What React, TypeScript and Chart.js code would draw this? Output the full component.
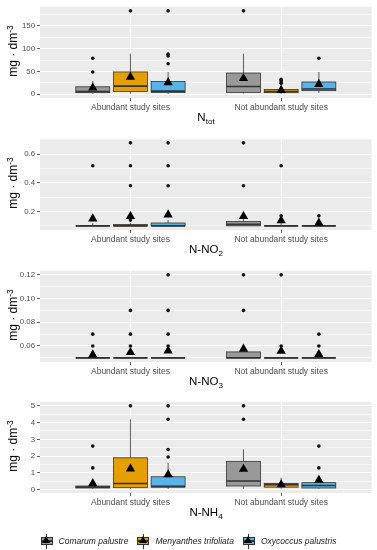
import React, { useEffect, useRef } from "react";
import { Chart, registerables } from "chart.js";
Chart.register(...registerables);

const groups = ["Abundant study sites", "Not abundant study sites"];
const species = ["Comarum palustre", "Menyanthes trifoliata", "Oxycoccus palustris"];
const speciesColors = ["#999999", "#E69F00", "#56B4E9"];

// box stats per species (rows) and group (columns): [lower whisker, Q1, median, Q3, upper whisker]
const ntotBoxes = [
  [[1, 3.6, 6, 16.5, 29], [2, 4, 17, 46.6, 89]],
  [[1, 6, 18, 49, 89], [1, 3.6, 6, 10.7, 20]],
  [[1, 4, 7, 28, 49], [3, 8, 11.5, 27, 49]],
];
const ntotMeans = [[14, 35], [38, 9], [26, 22]];
const ntotOutliers = [
  [[49, 79], [183]],
  [[183], [24, 27, 30, 33]],
  [[67, 84, 88, 183], [79]],
];
const ntotMajor = [0, 50, 100, 150];
const ntotMinor = [25, 75, 125, 175];
const ntotLabels = ["0", "50", "100", "150"];

const no2Boxes = [
  [[0.1, 0.1, 0.1, 0.1, 0.12], [0.1, 0.1, 0.11, 0.13, 0.15]],
  [[0.1, 0.1, 0.1, 0.11, 0.12], [0.1, 0.1, 0.1, 0.1, 0.12]],
  [[0.1, 0.1, 0.1, 0.12, 0.14], [0.1, 0.1, 0.1, 0.1, 0.1]],
];
const no2Means = [[0.15, 0.166], [0.166, 0.137], [0.178, 0.12]];
const no2Outliers = [
  [[0.52], [0.38, 0.68]],
  [[0.14, 0.38, 0.52, 0.68], [0.17, 0.52]],
  [[0.38, 0.52, 0.68], [0.17]],
];
const no2Major = [0.2, 0.4, 0.6];
const no2Minor = [0.1, 0.3, 0.5, 0.7];
const no2Labels = ["0.2", "0.4", "0.6"];

const no3Boxes = [
  [[0.05, 0.05, 0.05, 0.05, 0.05], [0.05, 0.05, 0.05, 0.055, 0.055]],
  [[0.05, 0.05, 0.05, 0.05, 0.05], [0.05, 0.05, 0.05, 0.05, 0.05]],
  [[0.05, 0.05, 0.05, 0.05, 0.05], [0.05, 0.05, 0.05, 0.05, 0.05]],
];
const no3Means = [[0.0526, 0.0575], [0.0547, 0.0557], [0.0559, 0.053]];
const no3Outliers = [
  [[0.06, 0.07], [0.09, 0.12]],
  [[0.06, 0.07, 0.09], [0.06, 0.12]],
  [[0.06, 0.07, 0.09, 0.12], [0.06, 0.07]],
];
const no3Major = [0.06, 0.08, 0.1, 0.12];
const no3Minor = [0.05, 0.07, 0.09, 0.11];
const no3Labels = ["0.06", "0.08", "0.10", "0.12"];

const nh4Boxes = [
  [[0.05, 0.1, 0.15, 0.22, 0.45], [0.05, 0.22, 0.52, 1.69, 2.4]],
  [[0.05, 0.12, 0.37, 1.9, 4.2], [0.05, 0.15, 0.3, 0.38, 0.71]],
  [[0.05, 0.15, 0.2, 0.77, 1.6], [0.05, 0.1, 0.25, 0.42, 0.7]],
];
const nh4Means = [[0.37, 1.23], [1.25, 0.3], [0.9, 0.57]];
const nh4Outliers = [
  [[1.3, 2.6], [4.2, 5]],
  [[5], []],
  [[1.95, 2.4, 4.2, 5], [1.3, 2.6]],
];
const nh4Major = [0, 1, 2, 3, 4, 5];
const nh4Minor = [0.5, 1.5, 2.5, 3.5, 4.5];
const nh4Labels = ["0", "1", "2", "3", "4", "5"];

const dodge = [-0.25, 0, 0.25];
const boxWidth = 0.225;
const FONT = "'Liberation Sans', Arial, sans-serif";

type Panel = {
  boxes: number[][][];
  means: number[][];
  outliers: number[][][];
  major: number[];
  minor: number[];
  labels: string[];
};

const panels: Panel[] = [
  { boxes: ntotBoxes, means: ntotMeans, outliers: ntotOutliers, major: ntotMajor, minor: ntotMinor, labels: ntotLabels },
  { boxes: no2Boxes, means: no2Means, outliers: no2Outliers, major: no2Major, minor: no2Minor, labels: no2Labels },
  { boxes: no3Boxes, means: no3Means, outliers: no3Outliers, major: no3Major, minor: no3Minor, labels: no3Labels },
  { boxes: nh4Boxes, means: nh4Means, outliers: nh4Outliers, major: nh4Major, minor: nh4Minor, labels: nh4Labels },
];

function limits(p: Panel): [number, number] {
  const vals = [...p.boxes.flat(2), ...p.outliers.flat(2), ...p.means.flat()];
  const lo = Math.min(...vals);
  const hi = Math.max(...vals);
  const pad = (hi - lo) * 0.05;
  return [lo - pad, hi + pad];
}

function makeBoxPlugin(p: Panel) {
  return {
    id: "boxes",
    beforeDraw(chart: any) {
      const { ctx, chartArea: a } = chart;
      ctx.save();
      ctx.fillStyle = "#EBEBEB";
      ctx.fillRect(a.left, a.top, a.right - a.left, a.bottom - a.top);
      ctx.restore();
    },
    beforeDatasetsDraw(chart: any) {
      const { ctx } = chart;
      const x = chart.scales.x;
      const y = chart.scales.y;
      const half = (x.getPixelForValue(boxWidth) - x.getPixelForValue(0)) / 2;
      ctx.save();
      p.boxes.forEach((rows, s) => {
        rows.forEach((b, g) => {
          const cx = x.getPixelForValue(g + 1 + dodge[s]);
          const [lo, q1, med, q3, hi] = b.map((v) => y.getPixelForValue(v));
          ctx.strokeStyle = "#333333";
          ctx.lineWidth = 0.8;
          ctx.beginPath();
          ctx.moveTo(cx, lo);
          ctx.lineTo(cx, q1);
          ctx.moveTo(cx, q3);
          ctx.lineTo(cx, hi);
          ctx.stroke();
          ctx.fillStyle = speciesColors[s];
          ctx.fillRect(cx - half, q3, half * 2, q1 - q3);
          ctx.strokeRect(cx - half, q3, half * 2, q1 - q3);
          ctx.lineWidth = 1.6;
          ctx.beginPath();
          ctx.moveTo(cx - half, med);
          ctx.lineTo(cx + half, med);
          ctx.stroke();
        });
      });
      ctx.restore();
    },
  };
}

function PanelChart({ panel, top }: { panel: Panel; top: number }) {
  const ref = useRef<HTMLCanvasElement | null>(null);
  useEffect(() => {
    if (!ref.current) return;
    const [min, max] = limits(panel);
    const datasets: any[] = [];
    species.forEach((sp, s) => {
      const outs: any[] = [];
      panel.outliers[s].forEach((list, g) =>
        list.forEach((v) => outs.push({ x: g + 1 + dodge[s], y: v }))
      );
      datasets.push({
        label: sp + " outliers",
        data: outs,
        pointRadius: 1.8,
        backgroundColor: "#111111",
        borderWidth: 0,
      });
    });
    species.forEach((sp, s) => {
      datasets.push({
        label: sp + " mean",
        data: panel.means[s].map((v, g) => ({ x: g + 1 + dodge[s], y: v })),
        pointStyle: "triangle",
        pointRadius: 5.4,
        backgroundColor: "#000000",
        borderWidth: 0,
      });
    });
    const chart = new Chart(ref.current, {
      type: "scatter",
      data: { datasets },
      plugins: [makeBoxPlugin(panel)],
      options: {
        animation: false,
        responsive: false,
        devicePixelRatio: 1,
        events: [],
        layout: { padding: { top: 4, right: 5, left: 0, bottom: 0 } },
        plugins: { legend: { display: false }, tooltip: { enabled: false } },
        scales: {
          x: {
            type: "linear",
            min: 0.4,
            max: 2.6,
            afterBuildTicks: (s: any) => {
              s.ticks = groups.map((_, i) => ({ value: i + 1 }));
            },
            afterFit: (s: any) => {
              s.height = 14;
            },
            ticks: {
              callback: (v: any) => groups[Math.round(v) - 1],
              font: { family: FONT, size: 8.5 },
              color: "#4D4D4D",
              padding: 1.5,
              maxRotation: 0,
              minRotation: 0,
              autoSkip: false,
            },
            grid: { color: "#FFFFFF", lineWidth: 1, tickColor: "#333333", tickLength: 3, tickWidth: 0.8 },
            border: { display: false },
          },
          y: {
            type: "linear",
            min,
            max,
            afterBuildTicks: (s: any) => {
              s.ticks = [...panel.minor, ...panel.major]
                .filter((v) => v >= min && v <= max)
                .sort((a, b) => a - b)
                .map((v) => ({ value: v }));
            },
            afterFit: (s: any) => {
              s.width = 40;
            },
            ticks: {
              callback: (v: any) => {
                const i = panel.major.indexOf(v);
                return i >= 0 ? panel.labels[i] : "";
              },
              font: { family: FONT, size: 7.8 },
              color: "#4D4D4D",
              padding: 2,
              autoSkip: false,
            },
            grid: {
              color: "#FFFFFF",
              lineWidth: (c: any) => (c.tick && panel.major.includes(c.tick.value) ? 1 : 0.5),
              tickColor: (c: any) =>
                c.tick && panel.major.includes(c.tick.value) ? "#333333" : "rgba(0,0,0,0)",
              tickLength: 3,
              tickWidth: 0.8,
            },
            border: { display: false },
          },
        },
      } as any,
    });
    return () => chart.destroy();
  }, [panel]);
  return (
    <canvas
      ref={ref}
      width={377}
      height={112}
      style={{ position: "absolute", left: 0, top, width: 377, height: 112, display: "block" }}
    />
  );
}

const subStyle = { fontSize: "70%", verticalAlign: "-0.35em", lineHeight: 0 };
const titles = [
  <>N<sub style={subStyle}>tot</sub></>,
  <>N-NO<sub style={subStyle}>2</sub></>,
  <>N-NO<sub style={subStyle}>3</sub></>,
  <>N-NH<sub style={subStyle}>4</sub></>,
];

export default function App() {
  const tops = [0, 132, 264, 395];
  return (
    <div style={{ position: "absolute", left: 0, top: 0, width: 377, height: 550, background: "#fff", fontFamily: FONT }}>
      {panels.map((p, i) => (
        <React.Fragment key={i}>
          <PanelChart panel={p} top={tops[i]} />
          <div
            style={{
              position: "absolute",
              left: 12.5 - 47,
              top: tops[i] + 4 + 47 - 8,
              width: 94,
              height: 16,
              lineHeight: "16px",
              textAlign: "center",
              fontSize: 12,
              color: "#000",
              transform: "rotate(-90deg)",
              whiteSpace: "nowrap",
            }}
          >
            mg · dm<sup style={{ fontSize: "70%", verticalAlign: "0.5em", lineHeight: 0 }}>-3</sup>
          </div>
          <div
            style={{
              position: "absolute",
              left: 40,
              width: 332,
              top: tops[i] + 110,
              height: 15,
              lineHeight: "15px",
              textAlign: "center",
              fontSize: 11.5,
              color: "#000",
            }}
          >
            {titles[i]}
          </div>
        </React.Fragment>
      ))}
      <div
        style={{
          position: "absolute",
          left: 0,
          top: 533,
          width: 377,
          height: 16,
          display: "flex",
          justifyContent: "center",
          alignItems: "center",
          gap: 9,
        }}
      >
        {species.map((sp, i) => (
          <div key={sp} style={{ display: "flex", alignItems: "center" }}>
            <div style={{ position: "relative", width: 12, height: 15 }}>
              <div style={{ position: "absolute", left: 5.5, top: 0, width: 1, height: 15, background: "#333" }} />
              <div
                style={{
                  position: "absolute",
                  left: 0,
                  top: 3.5,
                  width: 12,
                  height: 8,
                  background: speciesColors[i],
                  border: "0.8px solid #333",
                  boxSizing: "border-box",
                }}
              />
              <div style={{ position: "absolute", left: 0, top: 6.8, width: 12, height: 1.5, background: "#333" }} />
              <div
                style={{
                  position: "absolute",
                  left: 1.5,
                  top: 2,
                  width: 0,
                  height: 0,
                  borderLeft: "4.5px solid transparent",
                  borderRight: "4.5px solid transparent",
                  borderBottom: "7.5px solid #000",
                }}
              />
            </div>
            <span style={{ marginLeft: 6, fontStyle: "italic", fontSize: 8.5, color: "#1a1a1a", whiteSpace: "nowrap" }}>
              {sp}
            </span>
          </div>
        ))}
      </div>
    </div>
  );
}
